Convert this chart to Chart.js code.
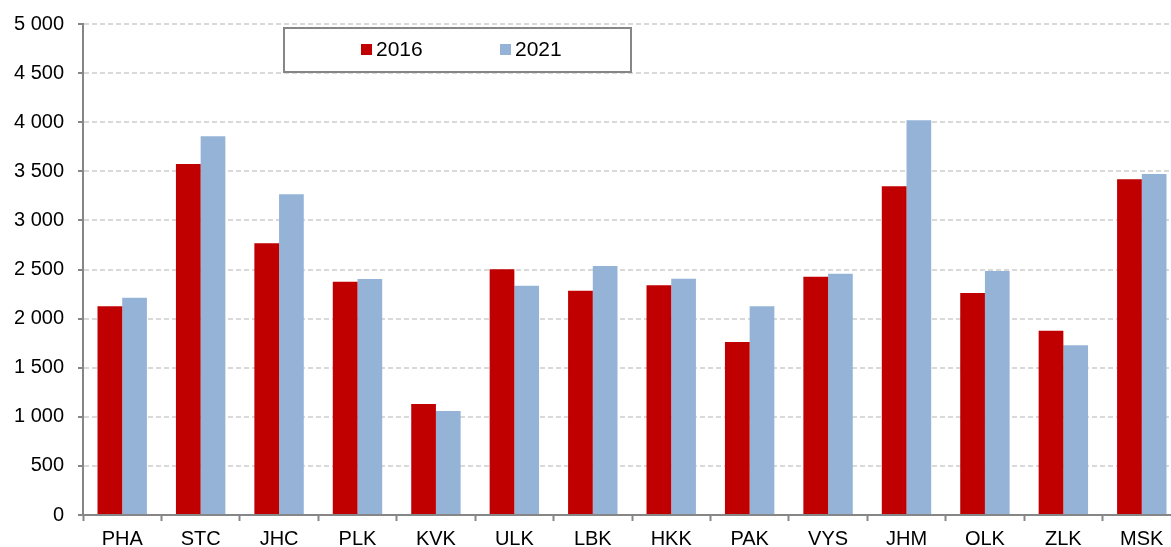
<!DOCTYPE html>
<html>
<head>
<meta charset="utf-8">
<script src="https://cdn.jsdelivr.net/npm/chart.js@4"></script>
<style>
  html, body { margin: 0; padding: 0; background: #fff; overflow: hidden; }
  #wrap { position: relative; width: 1181px; height: 547px; }
</style>
</head>
<body>
<div id="wrap"><canvas id="regionChart"></canvas></div>
<script>
// Regions (kraje) and values per year
const regions = ['PHA', 'STC', 'JHC', 'PLK', 'KVK', 'ULK', 'LBK', 'HKK', 'PAK', 'VYS', 'JHM', 'OLK', 'ZLK', 'MSK'];
const values2016 = [2125, 3574, 2767, 2376, 1130, 2502, 2284, 2339, 1762, 2427, 3347, 2261, 1877, 3418];
const values2021 = [2213, 3856, 3266, 2403, 1059, 2335, 2536, 2406, 2125, 2457, 4019, 2485, 1728, 3473];
const seriesLabels = ['2016', '2021'];
const yTicks = [0, 500, 1000, 1500, 2000, 2500, 3000, 3500, 4000, 4500, 5000];

const colors = {
  red: '#C00000',
  blue: '#95B3D7',
  axis: '#868686',
  grid: '#D9D9D9',
};

// Czech style thousands: "5 000"
function fmt(v) {
  return String(v).replace(/\B(?=(\d{3})+(?!\d))/g, ' ');
}

// Legend drawn as a boxed strip, like the original
const boxLegend = {
  id: 'boxLegend',
  afterDraw(chart) {
    const ctx = chart.ctx;
    const x = 284, y = 28, w = 347, h = 44;
    ctx.save();
    ctx.fillStyle = '#fff';
    ctx.fillRect(x, y, w, h);
    ctx.strokeStyle = colors.axis;
    ctx.lineWidth = 2;
    ctx.strokeRect(x, y, w, h);
    ctx.font = '21px "Liberation Sans", Arial, sans-serif';
    ctx.textBaseline = 'middle';
    ctx.fillStyle = '#000';
    const starts = [361, 500];
    chart.data.datasets.forEach((ds, i) => {
      ctx.fillStyle = ds.backgroundColor;
      ctx.fillRect(starts[i], 44, 11, 11);
      ctx.fillStyle = '#000';
      ctx.fillText(ds.label, starts[i] + 15, 50);
    });
    ctx.restore();
  },
};

new Chart(document.getElementById('regionChart'), {
  type: 'bar',
  data: {
    labels: regions,
    datasets: [
      { label: seriesLabels[0], data: values2016, backgroundColor: colors.red },
      { label: seriesLabels[1], data: values2021, backgroundColor: colors.blue },
    ],
  },
  options: {
    responsive: true,
    maintainAspectRatio: false,
    animation: false,
    datasets: {
      bar: { categoryPercentage: 0.63, barPercentage: 1.0 },
    },
    layout: { padding: { top: 12, right: 0, bottom: 0, left: 0 } },
    plugins: {
      legend: { display: false },
      tooltip: { enabled: false },
    },
    scales: {
      x: {
        grid: {
          drawOnChartArea: false,
          offset: true,
          tickLength: 6,
          tickColor: colors.axis,
          tickWidth: 2,
        },
        border: { color: colors.axis, width: 2 },
        ticks: {
          color: '#000',
          padding: 6,
          maxRotation: 0,
          font: { family: '"Liberation Sans", Arial, sans-serif', size: 20 },
        },
        afterFit(scale) { scale.height = 32; },
      },
      y: {
        min: 0,
        max: 5000,
        afterBuildTicks(scale) {
          scale.ticks = yTicks.map((v) => ({ value: v }));
        },
        grid: {
          color: colors.grid,
          lineWidth: 2,
          tickLength: 5,
          tickColor: colors.axis,
          tickWidth: 2,
        },
        border: { color: colors.axis, width: 2, dash: [5, 3] },
        ticks: {
          color: '#000',
          padding: 14,
          callback: (v) => fmt(v),
          font: { family: '"Liberation Sans", Arial, sans-serif', size: 20, lineHeight: 1 },
        },
        afterFit(scale) { scale.width = 83; },
      },
    },
  },
  plugins: [boxLegend],
});
</script>
</body>
</html>
